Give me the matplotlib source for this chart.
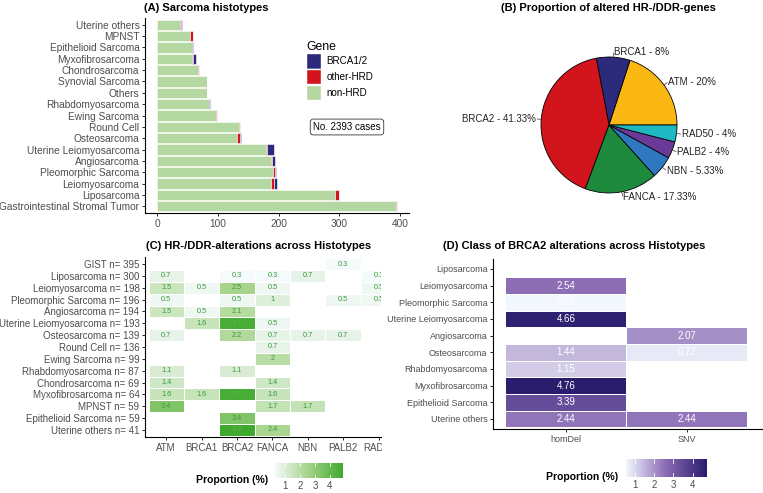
import matplotlib
matplotlib.use("Agg")
import matplotlib.pyplot as plt
import numpy as np
from matplotlib.colors import LinearSegmentedColormap
from matplotlib.patches import Patch, Rectangle

plt.rcParams["font.family"] = ["Liberation Sans", "DejaVu Sans"]

# ---------------- data ----------------
# (A) histotypes, top to bottom
histotypes = ["Uterine others", "MPNST", "Epithelioid Sarcoma", "Myxofibrosarcoma",
              "Chondrosarcoma", "Synovial Sarcoma", "Others", "Rhabdomyosarcoma",
              "Ewing Sarcoma", "Round Cell", "Osteosarcoma", "Uterine Leiomyosarcoma",
              "Angiosarcoma", "Pleomorphic Sarcoma", "Leiomyosarcoma", "Liposarcoma",
              "Gastrointestinal Stromal Tumor"]
non_hrd = [38, 55, 57, 58, 67, 82, 82, 85, 97, 135, 132, 180, 187, 191, 188, 293, 394]
other_hrd = [1, 4, 0, 2, 2, 0, 0, 1, 2, 1, 4, 1, 2, 4, 4, 6, 1]
brca12 = [2, 0, 2, 4, 0, 0, 0, 1, 0, 0, 3, 12, 5, 1, 6, 1, 0]
n_cases = 2393

# (B) altered genes
pie_genes = ["ATM", "BRCA1", "BRCA2", "FANCA", "NBN", "PALB2", "RAD50"]
pie_pct = [20, 8, 41.33, 17.33, 5.33, 4, 4]
pie_colors = ["#fbb812", "#2c2a7b", "#d2151c", "#1d8a3d", "#2e78c2", "#6b3a98", "#1fb7c1"]

# (C) alterations across histotypes
c_rows = ["GIST n= 395", "Liposarcoma n= 300", "Leiomyosarcoma n= 198",
          "Pleomorphic Sarcoma n= 196", "Angiosarcoma n= 194",
          "Uterine Leiomyosarcoma n= 193", "Osteosarcoma n= 139", "Round Cell n= 136",
          "Ewing Sarcoma n= 99", "Rhabdomyosarcoma n= 87", "Chondrosarcoma n= 69",
          "Myxofibrosarcoma n= 64", "MPNST n= 59", "Epithelioid Sarcoma n= 59",
          "Uterine others n= 41"]
c_cols = ["ATM", "BRCA1", "BRCA2", "FANCA", "NBN", "PALB2", "RAD50"]
nan = np.nan
c_vals = [
    [nan, nan, nan, nan, nan, 0.3, nan],
    [0.7, nan, 0.3, 0.3, 0.7, nan, 0.3],
    [1.5, 0.5, 2.5, 0.5, nan, nan, 0.5],
    [0.5, nan, 0.5, 1, nan, 0.5, 0.5],
    [1.5, 0.5, 2.1, nan, nan, nan, nan],
    [nan, 1.6, 4.7, 0.5, nan, nan, nan],
    [0.7, nan, 2.2, 0.7, 0.7, 0.7, nan],
    [nan, nan, nan, 0.7, nan, nan, nan],
    [nan, nan, nan, 2, nan, nan, nan],
    [1.1, nan, 1.1, nan, nan, nan, nan],
    [1.4, nan, nan, 1.4, nan, nan, nan],
    [1.6, 1.6, 4.7, 1.6, nan, nan, nan],
    [3.4, nan, nan, 1.7, 1.7, nan, nan],
    [nan, nan, 3.4, nan, nan, nan, nan],
    [nan, nan, 4.9, 2.4, nan, nan, nan],
]

# (D) BRCA2 alteration classes
d_rows = ["Liposarcoma", "Leiomyosarcoma", "Pleomorphic Sarcoma", "Uterine Leiomyosarcoma",
          "Angiosarcoma", "Osteosarcoma", "Rhabdomyosarcoma", "Myxofibrosarcoma",
          "Epithelioid Sarcoma", "Uterine others"]
d_cols = ["homDel", "SNV"]
d_vals = [
    [nan, nan],
    [2.54, nan],
    [0.51, nan],
    [4.66, nan],
    [nan, 2.07],
    [1.44, 0.72],
    [1.15, nan],
    [4.76, nan],
    [3.39, nan],
    [2.44, 2.44],
]

W, H = 763, 493
GREY = "#4d4d4d"


def fbox(x0, y0, x1, y1):
    # pixel box (top-left origin) -> figure fraction rect
    return [x0 / W, 1 - y1 / H, (x1 - x0) / W, (y1 - y0) / H]


def ggplot_axes(ax, fs):
    for s in ["top", "right"]:
        ax.spines[s].set_visible(False)
    for s in ["left", "bottom"]:
        ax.spines[s].set_linewidth(0.8)
    ax.tick_params(length=2.5, width=0.6, labelsize=fs, labelcolor=GREY, pad=1.5)


fig = plt.figure(figsize=(W / 100, H / 100), dpi=100)

# ---------------- (A) ----------------
axA = fig.add_axes(fbox(145, 18, 409, 213))
y = np.arange(len(histotypes))
non_hrd = np.array(non_hrd)
other_hrd = np.array(other_hrd)
brca12 = np.array(brca12)
axA.barh(y, non_hrd, height=0.9, color="#b5d7a1", edgecolor="white", linewidth=0.4)
axA.barh(y, other_hrd, left=non_hrd, height=0.9, color="#d2151c", edgecolor="white", linewidth=0.4)
axA.barh(y, brca12, left=non_hrd + other_hrd, height=0.9, color="#2c2a7b",
         edgecolor="white", linewidth=0.4)
axA.set_yticks(y)
axA.set_yticklabels(histotypes)
axA.set_ylim(len(histotypes) - 0.4, -0.6)
axA.set_xlim(-19.75, 414.75)
axA.set_xticks([0, 100, 200, 300, 400])
ggplot_axes(axA, 7.3)
fig.text(144 / W, 1 - 8 / H, "(A) Sarcoma histotypes", fontsize=8, fontweight="bold",
         ha="left", va="center")

handles = [Patch(facecolor="#2c2a7b", edgecolor="white"),
           Patch(facecolor="#d2151c", edgecolor="white"),
           Patch(facecolor="#b5d7a1", edgecolor="white")]
leg = fig.legend(handles, ["BRCA1/2", "other-HRD", "non-HRD"], title="Gene",
                 loc="upper left", bbox_to_anchor=(306 / W, 1 - 41 / H), frameon=False,
                 fontsize=7.1, title_fontsize=8.8, handlelength=1.5, handleheight=2.0,
                 labelspacing=0.05, handletextpad=0.6, borderpad=0, borderaxespad=0)
leg._legend_box.align = "left"
fig.text(347 / W, 1 - 127 / H, f"No. {n_cases} cases", fontsize=7, ha="center", va="center",
         bbox=dict(boxstyle="round,pad=0.3,rounding_size=0.3", fc="white", ec="#333333", lw=0.6))

# ---------------- (B) ----------------
cx, cy, r = 609, 125, 68
half = 1.6 * r
axB = fig.add_axes(fbox(cx - half, cy - half, cx + half, cy + half))
wedges, _ = axB.pie(pie_pct, colors=pie_colors, startangle=0, counterclock=True,
                    wedgeprops=dict(edgecolor="black", linewidth=0.6))
axB.set_xlim(-1.6, 1.6)
axB.set_ylim(-1.6, 1.6)
axB.set_aspect("equal")
axB.axis("off")
for w, g, p in zip(wedges, pie_genes, pie_pct):
    ang = np.deg2rad((w.theta1 + w.theta2) / 2)
    ca, sa = np.cos(ang), np.sin(ang)
    axB.plot([ca * 1.0, ca * 1.06], [sa * 1.0, sa * 1.06], color="#333333", lw=0.5)
    axB.text(ca * 1.08, sa * 1.08, f"{g} - {p:g}%", fontsize=7, color="#222222",
             ha="left" if ca >= 0 else "right", va="center")
fig.text(608 / W, 1 - 8 / H, "(B) Proportion of altered HR-/DDR-genes", fontsize=8,
         fontweight="bold", ha="center", va="center")

# ---------------- (C) ----------------
cmapC = LinearSegmentedColormap.from_list("g", ["#f5fafc", "#a3d286", "#3fa92e"])
axC = fig.add_axes(fbox(145, 257, 381, 437))
C = np.ma.masked_invalid(np.array(c_vals, dtype=float))
meshC = axC.pcolormesh(np.arange(len(c_cols) + 1) - 0.5, np.arange(len(c_rows) + 1) - 0.5, C,
                       cmap=cmapC, vmin=0.3, vmax=4.9, edgecolors="white", linewidth=0.4)
for i in range(len(c_rows)):
    for j in range(len(c_cols)):
        v = c_vals[i][j]
        if not np.isnan(v):
            axC.text(j, i, f"{v:g}", ha="center", va="center", fontsize=5.3,
                     color="#3a9a3a" if v < 4 else "#5cb04a", clip_on=True)
axC.set_xlim(-0.6, 6.07)
axC.set_ylim(len(c_rows) - 0.4, -0.6)
axC.set_xticks(np.arange(len(c_cols)))
axC.set_xticklabels(c_cols)
axC.set_yticks(np.arange(len(c_rows)))
axC.set_yticklabels(c_rows)
ggplot_axes(axC, 7)
fig.text(146 / W, 1 - 246 / H, "(C) HR-/DDR-alterations across Histotypes", fontsize=8,
         fontweight="bold", ha="left", va="center")
# panel D overlaps the clipped right edge of panel C
fig.patches.append(Rectangle((382 / W, 0.06), 0.03, 0.05, transform=fig.transFigure,
                             fc="white", ec="none", zorder=5))

caxC = fig.add_axes(fbox(275, 463, 343, 478))
cbC = fig.colorbar(meshC, cax=caxC, orientation="horizontal", ticks=[1, 2, 3, 4])
cbC.outline.set_visible(False)
caxC.tick_params(length=0, labelsize=7, labelcolor=GREY, pad=2)
for t in [1, 2, 3, 4]:
    caxC.axvline(t, color="white", lw=0.6, ymin=0, ymax=0.2)
    caxC.axvline(t, color="white", lw=0.6, ymin=0.8, ymax=1)
fig.text(268 / W, 1 - 480 / H, "Proportion (%)", fontsize=7.5, fontweight="bold",
         ha="right", va="center")

# ---------------- (D) ----------------
cmapD = LinearSegmentedColormap.from_list("p", ["#f1f7fd", "#8868b2", "#2a1d6e"])
axD = fig.add_axes(fbox(493, 259, 762, 429))
D = np.ma.masked_invalid(np.array(d_vals, dtype=float))
meshD = axD.pcolormesh(np.arange(len(d_cols) + 1) - 0.5, np.arange(len(d_rows) + 1) - 0.5, D,
                       cmap=cmapD, vmin=0.51, vmax=4.76, edgecolors="white", linewidth=0.5)
for i in range(len(d_rows)):
    for j in range(len(d_cols)):
        v = d_vals[i][j]
        if not np.isnan(v):
            axD.text(j, i, f"{v:.2f}", ha="center", va="center", fontsize=7, color="white")
axD.set_xlim(-0.603, 1.62)
axD.set_ylim(len(d_rows) - 0.4, -0.6)
axD.set_xticks(np.arange(len(d_cols)))
axD.set_xticklabels(d_cols)
axD.set_yticks(np.arange(len(d_rows)))
axD.set_yticklabels(d_rows)
ggplot_axes(axD, 6.5)
fig.text(443 / W, 1 - 246 / H, "(D) Class of BRCA2 alterations across Histotypes", fontsize=8,
         fontweight="bold", ha="left", va="center")

caxD = fig.add_axes(fbox(626, 459, 707, 477))
cbD = fig.colorbar(meshD, cax=caxD, orientation="horizontal", ticks=[1, 2, 3, 4])
cbD.outline.set_visible(False)
caxD.tick_params(length=0, labelsize=7, labelcolor=GREY, pad=2)
for t in [1, 2, 3, 4]:
    caxD.axvline(t, color="white", lw=0.6, ymin=0, ymax=0.2)
    caxD.axvline(t, color="white", lw=0.6, ymin=0.8, ymax=1)
fig.text(618 / W, 1 - 477 / H, "Proportion (%)", fontsize=7.5, fontweight="bold",
         ha="right", va="center")

fig.savefig("out.png", dpi=100)
